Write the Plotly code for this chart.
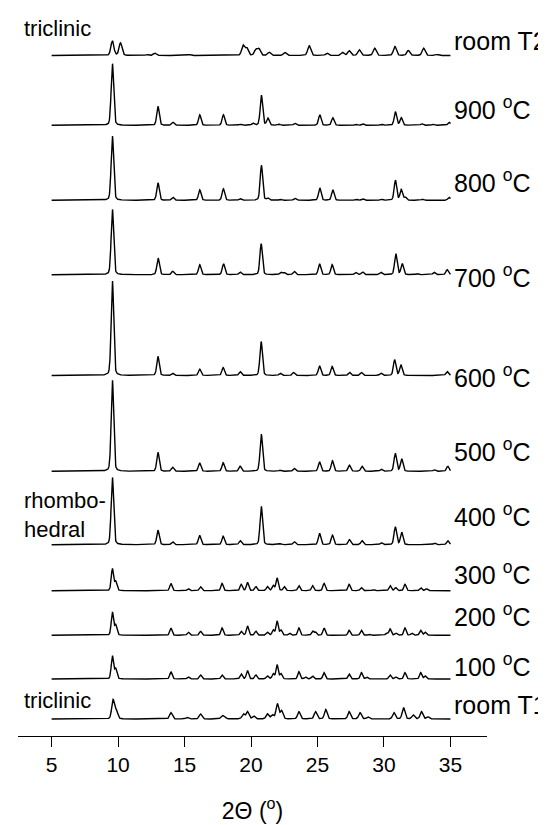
import numpy as np
import plotly.graph_objects as go

# ---------------- data ----------------
two_theta_ticks = [5, 10, 15, 20, 25, 30, 35]

pattern_names = ["room T2", "900 <sup>o</sup>C", "800 <sup>o</sup>C", "700 <sup>o</sup>C",
                 "600 <sup>o</sup>C", "500 <sup>o</sup>C", "400 <sup>o</sup>C",
                 "300 <sup>o</sup>C", "200 <sup>o</sup>C", "100 <sup>o</sup>C", "room T1"]

# peak positions (2theta, deg) and intensities (arb. units) for each pattern
pos_T2 = [9.57, 10.18, 12.16, 12.76, 15.35, 17.3, 19.4, 19.68, 20.36, 20.6, 21.37, 22.54,
          24.37, 25.7, 26.88, 27.38, 28.14, 29.3, 30.82, 31.83, 32.98, 34.0]
int_T2 = [14.7, 12.5, 1.0, 2.3, 1.0, 0.7, 10.0, 7.3, 5.7, 6.3, 3.3, 3.0,
          10.0, 2.3, 3.0, 4.7, 5.7, 7.3, 9.0, 5.0, 7.3, 1.0]

pos_900 = [9.57, 13.0, 14.12, 16.14, 17.92, 19.18, 20.15, 20.78, 21.27, 22.1, 23.3, 25.17,
           26.15, 27.9, 28.4, 29.8, 30.86, 31.3, 32.86, 33.7, 34.9]
int_900 = [62, 19, 3, 10.5, 10.5, 1, 2, 30, 7, 1, 2, 10.5,
           7.5, 1, 1.5, 1, 13.5, 7.5, 1.5, 1, 3]

pos_800 = [9.57, 13.0, 14.12, 16.14, 17.92, 19.18, 20.78, 21.27, 22.2, 23.3, 25.17, 26.15,
           27.9, 28.4, 29.8, 30.86, 31.3, 31.6, 32.9, 34.9]
int_800 = [64.7, 17.5, 3, 10.5, 11.5, 1.5, 35, 2, 1, 2, 12.5, 10.5,
           1, 1.5, 1, 20, 10.5, 3, 1, 3]

pos_700 = [9.57, 13.01, 14.11, 16.14, 17.93, 19.18, 20.76, 22.24, 22.5, 23.25, 25.15, 26.1,
           27.88, 28.39, 29.77, 30.89, 31.37, 32.5, 33.78, 34.75]
int_700 = [65.7, 16.7, 3.3, 10, 11, 2.7, 31, 2.3, 2, 3.3, 11, 10,
           2.3, 2.7, 2.3, 21, 11, 1, 2.3, 5]

pos_600 = [9.57, 13.0, 14.1, 16.14, 17.9, 19.18, 20.76, 22.2, 23.2, 25.15, 26.1, 27.4,
           28.3, 29.77, 30.8, 31.27, 34.75]
int_600 = [95, 19, 2.3, 6.3, 8, 3.7, 34, 2.3, 3, 9.7, 9, 3.3,
           3, 2.3, 15.7, 10.7, 4]

pos_500 = [9.57, 13.0, 14.1, 16.13, 17.9, 19.18, 20.77, 22.2, 23.25, 25.15, 26.12, 27.4,
           28.35, 29.8, 30.85, 31.33, 33.8, 34.8]
int_500 = [91.6, 19, 4, 8.5, 8.5, 5, 37.5, 1, 3, 9.5, 10.5, 6,
           5, 2, 18, 12.5, 1.5, 5]

pos_400 = [9.57, 13.0, 14.1, 16.13, 17.9, 19.18, 20.77, 22.2, 23.25, 25.15, 26.12, 27.4,
           28.35, 29.8, 30.85, 31.33, 33.8, 34.8]
int_400 = [67.7, 14.5, 3, 9.5, 8.5, 4, 38.5, 1, 3, 11.5, 9.5, 5,
           4, 2, 18, 12.5, 1.5, 4]

pos_300 = [9.57, 9.82, 13.97, 15.28, 16.2, 17.82, 19.26, 19.73, 20.36, 21.23, 21.67, 21.96,
           22.5, 23.6, 24.63, 25.49, 27.38, 28.3, 29.2, 30.46, 30.88, 31.58, 32.76, 33.2]
int_300 = [22, 9, 7.3, 2, 4, 7.3, 6.3, 8.4, 4, 4, 5, 12.5,
           4, 5, 5, 7.3, 6.3, 3, 1, 5, 3, 6.3, 3, 2]

pos_200 = [9.57, 9.82, 13.97, 15.28, 16.2, 17.82, 19.26, 19.73, 20.36, 21.23, 21.67, 21.96,
           22.25, 22.9, 23.6, 24.63, 24.85, 25.49, 27.38, 28.3, 28.9, 30.2, 30.46, 30.9,
           31.58, 32.1, 32.76, 33.1]
int_200 = [23, 10, 7.3, 3, 4, 7.3, 4, 9.4, 4, 3, 5, 14,
           5, 2, 7.3, 4, 3, 7.3, 5, 5, 1, 2, 6.3, 2,
           7.3, 2, 5, 3]

pos_100 = [9.57, 9.82, 13.97, 15.28, 16.2, 17.82, 19.26, 19.73, 20.36, 21.23, 21.67, 21.96,
           22.25, 23.6, 24.1, 24.63, 25.49, 27.38, 28.3, 28.7, 30.46, 30.9, 31.58, 32.76, 33.1]
int_100 = [23, 10, 7.3, 2, 4, 4, 5, 8.4, 4, 3, 5, 14,
           5, 7.3, 2, 3, 6.3, 5, 6.3, 2, 4, 2, 6.3, 6.3, 3]

pos_T1 = [9.62, 9.87, 13.97, 15.2, 16.2, 17.82, 18.0, 19.42, 19.73, 20.2, 21.23, 21.6,
          21.98, 22.3, 23.6, 24.85, 25.62, 27.38, 28.2, 28.8, 30.75, 31.47, 32.2, 32.82, 33.3]
int_T1 = [19, 8, 6.3, 1.5, 5, 3, 2, 5, 7.3, 3, 5, 4,
          15, 8, 7.3, 7.3, 9.4, 7.3, 6.3, 2, 6.3, 11.5, 4, 7.3, 2]

peak_positions = [pos_T2, pos_900, pos_800, pos_700, pos_600, pos_500, pos_400,
                  pos_300, pos_200, pos_100, pos_T1]
peak_intensities = [int_T2, int_900, int_800, int_700, int_600, int_500, int_400,
                    int_300, int_200, int_100, int_T1]

# vertical stacking offsets of each pattern (arb. units)
offsets = [680.5, 610.7, 535.7, 461.3, 360.5, 264.7, 191.3, 145.3, 100.7, 57.0, 17.0]
# peak widths (FWHM, deg) per pattern
fwhms = [0.26, 0.22, 0.22, 0.22, 0.22, 0.22, 0.22, 0.2, 0.2, 0.2, 0.24]

# label vertical centres (same units as offsets)
label_y = [695, 628, 555, 460, 360, 286, 221, 163, 121, 71, 31]

# ---------------- figure ----------------
FONT = "Liberation Sans, Arial, Helvetica, sans-serif"
x = np.arange(5.0, 35.0001, 0.02)

PLOT_L, PLOT_R, PLOT_H = 10, 479, 728   # plot area in pixels
def px_x(p):
    return (p - PLOT_L) / (PLOT_R - PLOT_L)
def px_y(p):
    return (PLOT_H - p) / PLOT_H

fig = go.Figure()
for pos, inten, off, w in zip(peak_positions, peak_intensities, offsets, fwhms):
    y = np.zeros_like(x)
    for p, h in zip(pos, inten):
        d = (x - p) / w
        y += h * (0.75 * np.exp(-4 * np.log(2) * d ** 2) + 0.25 / (1 + 4 * d ** 2))
    fig.add_trace(go.Scatter(x=x, y=y + off, mode="lines",
                             line=dict(color="black", width=1.4),
                             hoverinfo="skip", showlegend=False))

annotations = []
for name, ly in zip(pattern_names, label_y):
    annotations.append(dict(x=35.15, y=ly, xref="x", yref="y", text=name,
                            showarrow=False, xanchor="left", yanchor="middle",
                            font=dict(family=FONT, size=25, color="black")))
annotations += [
    dict(x=px_x(14), y=px_y(20), xref="paper", yref="paper", text="triclinic",
         showarrow=False, xanchor="left", yanchor="middle",
         font=dict(family=FONT, size=22, color="black")),
    dict(x=px_x(14), y=px_y(507), xref="paper", yref="paper",
         text="rhombo-<br>hedral", align="left",
         showarrow=False, xanchor="left", yanchor="middle",
         font=dict(family=FONT, size=22, color="black")),
    dict(x=px_x(14), y=px_y(692), xref="paper", yref="paper", text="triclinic",
         showarrow=False, xanchor="left", yanchor="middle",
         font=dict(family=FONT, size=22, color="black")),
]

fig.update_layout(
    width=546, height=825,
    margin=dict(l=PLOT_L, r=546 - PLOT_R, t=0, b=825 - PLOT_H),
    paper_bgcolor="white", plot_bgcolor="white",
    showlegend=False,
    annotations=annotations,
    xaxis=dict(range=[2.47, 37.75], tickvals=two_theta_ticks,
               ticktext=[str(t) for t in two_theta_ticks],
               showline=True, linecolor="black", linewidth=1.4,
               ticks="outside", ticklen=10, tickwidth=1.4, tickcolor="black",
               showgrid=False, zeroline=False,
               tickfont=dict(family=FONT, size=21, color="black"),
               title=dict(text="2\u0398 (<sup>o</sup>)", standoff=27,
                          font=dict(family=FONT, size=23, color="black"))),
    yaxis=dict(range=[0, 728], visible=False, showgrid=False, zeroline=False),
)

fig.write_html("out.html")
